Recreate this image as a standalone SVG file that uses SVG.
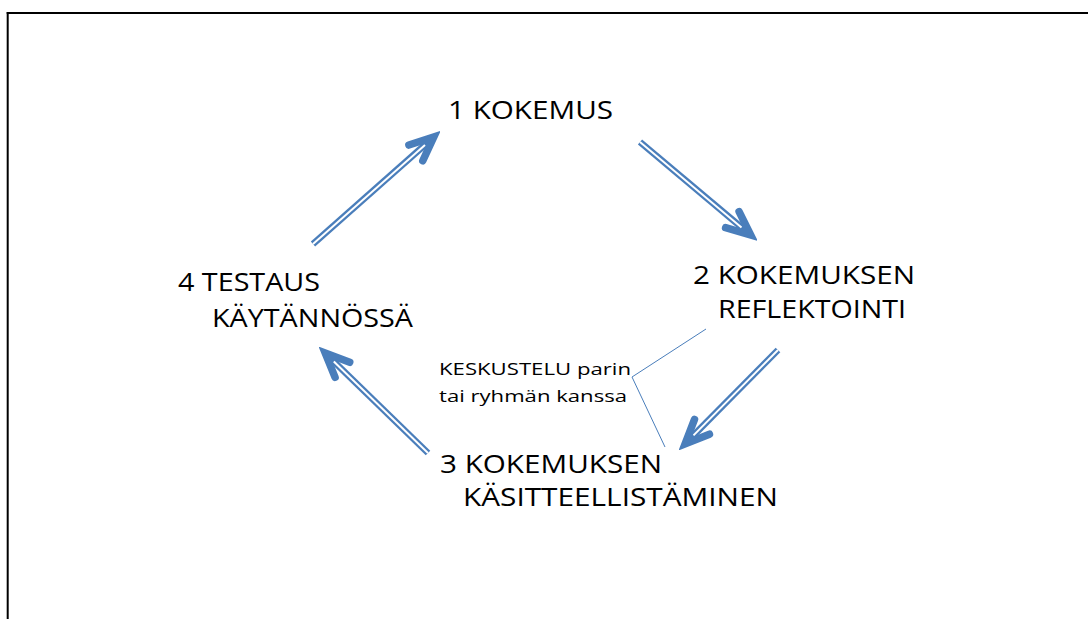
<svg xmlns="http://www.w3.org/2000/svg" width="1088" height="619" viewBox="0 0 1088 619">
<style>
.big{font-family:"Open Sans","Liberation Sans",sans-serif;font-size:25px;fill:#000}
.small{font-family:"Open Sans","Liberation Sans",sans-serif;font-size:17px;fill:#000}
.shaft{stroke:#4a7ebb;stroke-width:6.5;fill:none}
.gap{stroke:#fff;stroke-width:2;fill:none}
.callout{stroke:#4a7ebb;stroke-width:1;fill:none}
</style>
<defs>
<marker id="head" markerUnits="userSpaceOnUse" markerWidth="40" markerHeight="36" viewBox="-32 -18 40 36" refX="0" refY="0" orient="auto">
<path d="M-24,-10.5 L0,0 L-24,10.5" fill="none" stroke="#4a7ebb" stroke-width="7.5" stroke-linecap="round" stroke-linejoin="miter"/>
</marker>
</defs>
<rect width="1088" height="619" fill="#fff"/>
<g id="frame" stroke="#000" stroke-width="2" fill="none">
<line x1="6.7" y1="13" x2="1088" y2="13"/>
<line x1="7.7" y1="12" x2="7.7" y2="619"/>
</g>
<g id="connectors">
<g id="a41">
<line class="shaft" x1="313" y1="244" x2="433.8" y2="137" marker-end="url(#head)"/>
<line class="gap" x1="313" y1="244" x2="425" y2="145"/>
</g>
<g id="a12">
<line class="shaft" x1="640" y1="142" x2="750.7" y2="235.1" marker-end="url(#head)"/>
<line class="gap" x1="640" y1="142" x2="741.5" y2="227.4"/>
</g>
<g id="a23">
<line class="shaft" x1="778" y1="350" x2="685.1" y2="443.9" marker-end="url(#head)"/>
<line class="gap" x1="778" y1="350" x2="693.5" y2="435.4"/>
</g>
<g id="a34">
<line class="shaft" x1="428" y1="453" x2="325.2" y2="353.1" marker-end="url(#head)"/>
<line class="gap" x1="428" y1="453" x2="333.8" y2="361.5"/>
</g>
<polyline id="callout-line" class="callout" points="706,329 632,377 665,447"/>
</g>
<g id="node1">
<text class="big" x="448" y="119" textLength="165" lengthAdjust="spacingAndGlyphs">1 KOKEMUS</text>
</g>
<g id="node2">
<text class="big" x="693" y="284" textLength="222" lengthAdjust="spacingAndGlyphs">2 KOKEMUKSEN</text>
<text class="big" x="718" y="318" textLength="188" lengthAdjust="spacingAndGlyphs">REFLEKTOINTI</text>
</g>
<g id="node3">
<text class="big" x="440" y="473" textLength="222" lengthAdjust="spacingAndGlyphs">3 KOKEMUKSEN</text>
<text class="big" x="463" y="506" textLength="315" lengthAdjust="spacingAndGlyphs">KÄSITTEELLISTÄMINEN</text>
</g>
<g id="node4">
<text class="big" x="178" y="291" textLength="142" lengthAdjust="spacingAndGlyphs">4 TESTAUS</text>
<text class="big" x="212" y="327" textLength="201" lengthAdjust="spacingAndGlyphs">KÄYTÄNNÖSSÄ</text>
</g>
<g id="callout">
<text class="small" x="439" y="375" textLength="192" lengthAdjust="spacingAndGlyphs">KESKUSTELU parin</text>
<text class="small" x="439" y="402" textLength="188" lengthAdjust="spacingAndGlyphs">tai ryhmän kanssa</text>
</g>
</svg>
